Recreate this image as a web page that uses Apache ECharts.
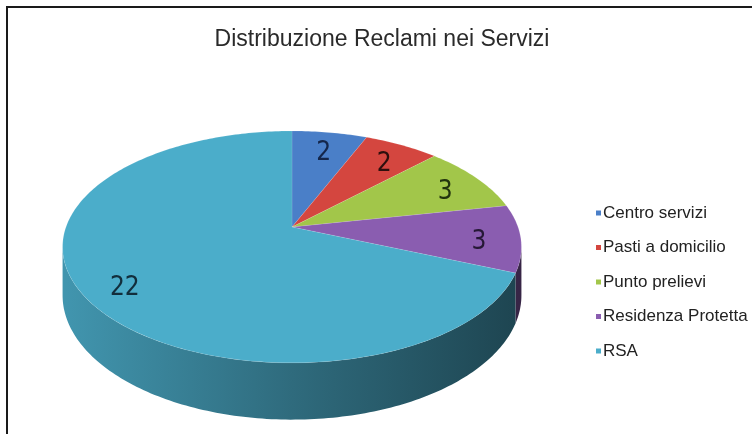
<!DOCTYPE html>
<html>
<head>
<meta charset="utf-8">
<script src="https://cdn.jsdelivr.net/npm/echarts@6/dist/echarts.min.js"></script>
<style>
html,body{margin:0;padding:0;background:#fff;}
#chart{width:752px;height:434px;}
</style>
</head>
<body>
<div id="chart"></div>
<script>
// ---- data ----
const categories = ['Centro servizi', 'Pasti a domicilio', 'Punto prelievi', 'Residenza Protetta', 'RSA'];
const values = [2, 2, 3, 3, 22];
const chartTitle = 'Distribuzione Reclami nei Servizi';

// ---- styles ----
const palette = ['#4a7fc8', '#d4463f', '#a2c64a', '#8a5db0', '#4badca'];
const labelPalette = ['#14264a', '#2e0f0d', '#22330e', '#261836', '#122e3c'];

// ---- 3D pie layout (perspective projection of a disk) ----
const CX = 292, CY = 227, RX = 226, RY = 112.5, K = 0.172, DEPTH = 47;
const LABEL_R = 0.82, LABEL_DY = 6;

function proj(theta, r, drop) {
  const u = r * Math.sin(theta), v = r * Math.cos(theta);
  const d = 1 + K * v;
  return [CX + RX * u / d, CY - RY * v / d + (drop ? DEPTH / d : 0)];
}
function shade(hex, f) {
  const n = parseInt(hex.slice(1), 16);
  const r = Math.round(((n >> 16) & 255) * f), g = Math.round(((n >> 8) & 255) * f), b = Math.round((n & 255) * f);
  return 'rgb(' + r + ',' + g + ',' + b + ')';
}
const total = values.reduce((a, b) => a + b, 0);
const cum = [0];
values.forEach(v => cum.push(cum[cum.length - 1] + v));

function arc(a0, a1, drop) {
  const pts = [];
  const n = Math.max(2, Math.ceil(Math.abs(a1 - a0) / (Math.PI / 180)));
  for (let j = 0; j <= n; j++) pts.push(proj(a0 + (a1 - a0) * j / n, 1, drop));
  return pts;
}

function makeRender(i) {
  return function (params, api) {
    const val = api.value(0);
    const start = cum[i] / total * Math.PI * 2;
    const end = (cum[i] + val) / total * Math.PI * 2;
    const children = [];
    // visible side wall (silhouette from acos(-K) to 2PI-acos(-K))
    const s1 = Math.acos(-K), s2 = Math.PI * 2 - s1;
    const a0 = Math.max(start, s1), a1 = Math.min(end, s2);
    if (a1 > a0) {
      const pts = arc(a0, a1, false).concat(arc(a1, a0, true));
      children.push({
        type: 'polygon',
        shape: { points: pts },
        style: {
          fill: new echarts.graphic.LinearGradient(CX - RX, 0, CX + RX, 0, [
            { offset: 0, color: shade(palette[i], 0.86) },
            { offset: 0.5, color: shade(palette[i], 0.62) },
            { offset: 1, color: shade(palette[i], 0.4) }
          ], true),
          stroke: null
        }
      });
    }
    // top face
    const top = [[CX, CY]].concat(arc(start, end, false));
    children.push({
      type: 'polygon',
      shape: { points: top },
      style: { fill: palette[i], stroke: 'rgba(255,255,255,0.18)', lineWidth: 0.6 }
    });
    // label
    const mid = (start + end) / 2;
    const lp = proj(mid, LABEL_R, false);
    children.push({
      type: 'text',
      style: {
        text: String(val),
        x: lp[0], y: lp[1] + LABEL_DY,
        fill: labelPalette[i],
        font: '26px "Liberation Sans Narrow", "DejaVu Sans Condensed", sans-serif',
        align: 'center', verticalAlign: 'middle'
      }
    });
    return { type: 'group', children: children };
  };
}

const series = categories.map((name, i) => ({
  type: 'custom',
  name: name,
  coordinateSystem: 'none',
  itemStyle: { color: palette[i] },
  data: [values[i]],
  renderItem: makeRender(i),
  silent: true
}));

const chart = echarts.init(document.getElementById('chart'), null, { renderer: 'canvas' });
chart.setOption({
  backgroundColor: '#fff',
  animation: false,
  title: {
    text: chartTitle,
    left: 382, top: 28, textAlign: 'center', padding: 0,
    textStyle: { fontFamily: '"Liberation Sans", Arial, sans-serif', fontSize: 23, fontWeight: 'normal', color: '#2a2a2a' }
  },
  legend: {
    orient: 'vertical',
    left: 591, top: 199,
    itemWidth: 5, itemHeight: 5, itemGap: 16.5,
    icon: 'rect',
    data: categories,
    selectedMode: false,
    textStyle: { fontFamily: '"Liberation Sans", Arial, sans-serif', fontSize: 17, color: '#222', padding: [0, 0, 0, -3], lineHeight: 18 }
  },
  graphic: [{
    type: 'polyline',
    shape: { points: [[7, 434], [7, 7], [752, 7]] },
    style: { stroke: '#1a1a1a', lineWidth: 2, fill: null }
  }],
  series: series
});
</script>
</body>
</html>
